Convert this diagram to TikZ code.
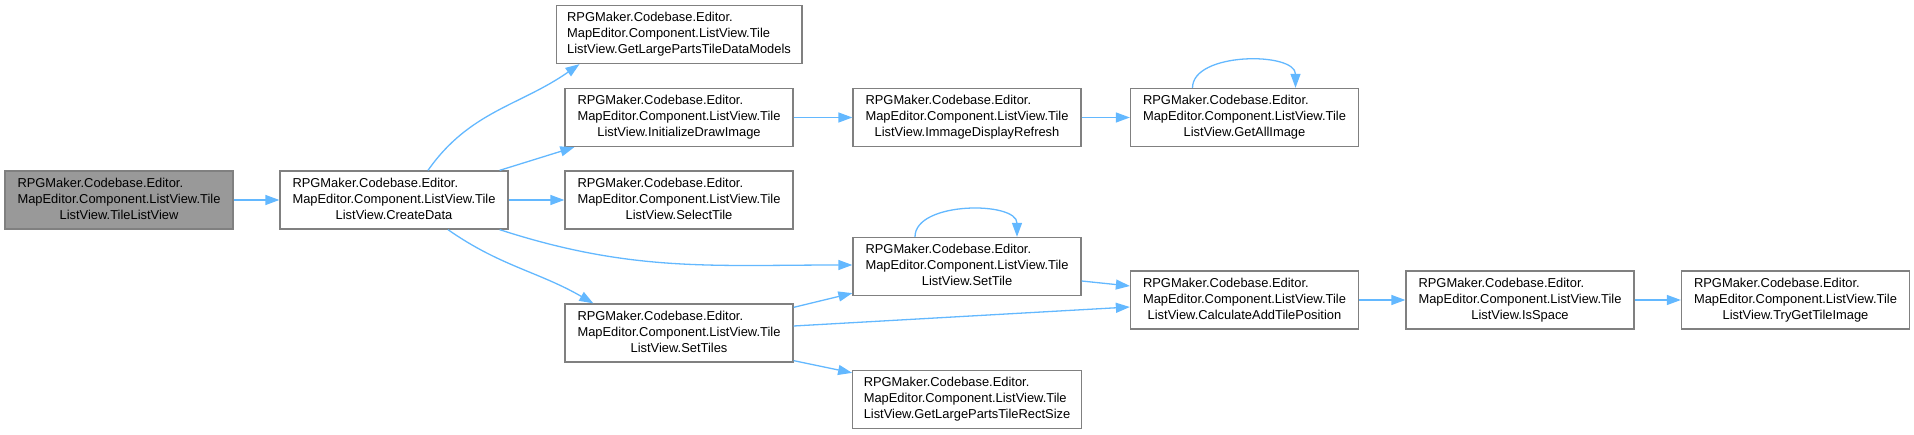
\documentclass[tikz,border=0pt]{standalone}
\usepackage{fontspec}
\setmainfont{Liberation Sans}
\usepackage{tikz}
\usetikzlibrary{arrows.meta,positioning,calc}

\definecolor{edgeblue}{HTML}{63B8FF}
\definecolor{boxgray}{HTML}{808080}
\definecolor{mainfill}{HTML}{999999}

% three line label, first two lines left, last one centred
\newcommand{\fn}[1]{\begin{tabular}{@{}l@{}}RPGMaker.Codebase.Editor.\\MapEditor.Component.ListView.Tile\\\multicolumn{1}{@{}c@{}}{ListView.#1}\end{tabular}}

\tikzset{
  func/.style={draw=boxgray, line width=1.3pt, fill=white, minimum width=228pt,
    minimum height=58pt, inner xsep=11pt, inner ysep=0pt,
    font=\fontsize{12.9}{16}\selectfont},
  mainfunc/.style={func, fill=mainfill},
  call/.style={color=edgeblue, line width=1.3pt, -{Triangle[length=14pt,width=10pt]}}
}

\begin{document}
\begin{tikzpicture}[x=1pt,y=-1pt,on grid]
    \useasboundingbox (0,0) rectangle (1914,435);

    \node[mainfunc] (tlv) at (119,200) {\fn{TileListView}};
    \node[func] (createdata) [right=275pt of tlv] {\fn{CreateData}};
    \node[func] (selecttile) [right=285pt of createdata] {\fn{SelectTile}};
    \node[func] (initdraw) [above=82.5pt of selecttile] {\fn{InitializeDrawImage}};
    \node[func] (largemodels) [above=83pt of initdraw] {\fn{GetLargePartsTileDataModels}};
    \node[func] (settiles) [below=133pt of selecttile] {\fn{SetTiles}};
    \node[func] (refresh) [right=288pt of initdraw] {\fn{ImmageDisplayRefresh}};
    \node[func] (allimage) [right=277.5pt of refresh] {\fn{GetAllImage}};
    \node[func] (settile) [below=149pt of refresh] {\fn{SetTile}};
    \node[func] (calcpos) [below right=33.5pt and 277.5pt of settile] {\fn{CalculateAddTilePosition}};
    \node[func] (isspace) [right=275.5pt of calcpos] {\fn{IsSpace}};
    \node[func] (trytile) [right=275.5pt of isspace] {\fn{TryGetTileImage}};
    \node[func] (rectsize) [below right=66.5pt and 288pt of settiles] {\fn{GetLargePartsTileRectSize}};

    \path[call]
    (tlv) edge (createdata)
    ($(createdata.north)+(34,0)$) coordinate (cdn) (cdn) edge[out=55,in=215] ($(largemodels.south west)+(24,0)$)
    ($(createdata.north east)+(-9,0)$) coordinate (cdne) (cdne) edge ($(initdraw.south west)+(10,0)$)
    (createdata) edge (selecttile)
    ($(createdata.south east)+(-9,0)$) coordinate (cdse) (cdse) edge[out=-18,in=180] ($(settile.west)+(0,-1.5)$)
    ($(createdata.south)+(54,0)$) coordinate (cds) (cds) edge[out=-35,in=150] ($(settiles.north west)+(29,0)$)
    (initdraw) edge (refresh)
    (refresh) edge (allimage)
    ($(settiles.north east)+(0,4)$) coordinate (stne) (stne) edge ($(settile.south west)+(0,-3)$)
    ($(settiles.east)+(0,-7)$) coordinate (ste) (ste) edge ($(calcpos.west)+(0,7)$)
    ($(settiles.south east)+(0,-2)$) coordinate (stse) (stse) edge ($(rectsize.north west)+(0,3)$)
    ($(settile.east)+(0,14.5)$) coordinate (sle) (sle) edge ($(calcpos.west)+(0,-14)$)
    (calcpos) edge (isspace)
    (isspace) edge (trytile)
    ($(settile.north)+(-52,0)$) coordinate (sla) (sla) edge[out=90,in=90,looseness=0.9] ($(settile.north)+(50,0)$)
    ($(allimage.north)+(-52,0)$) coordinate (ala) (ala) edge[out=90,in=90,looseness=0.9] ($(allimage.north)+(51,0)$)
    ;
\end{tikzpicture}
\end{document}
